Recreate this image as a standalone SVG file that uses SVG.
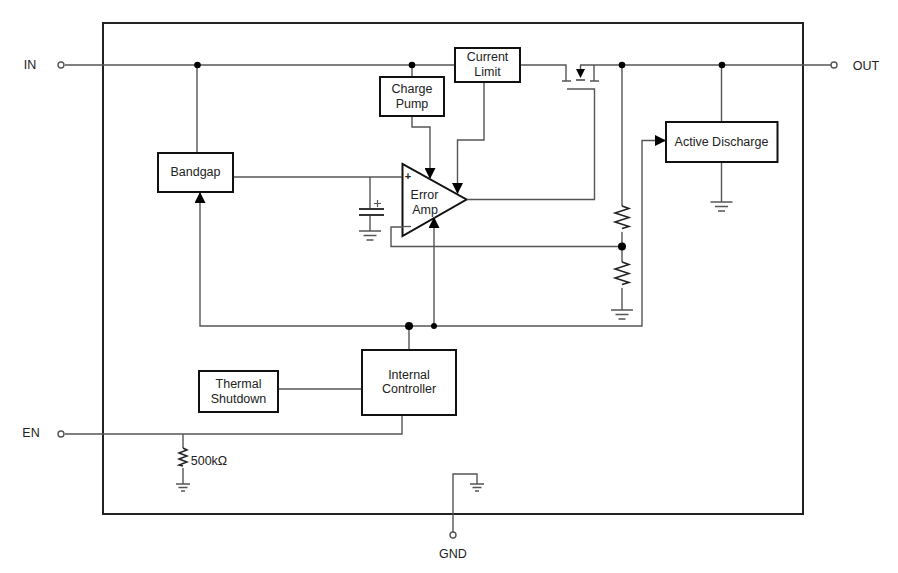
<svg xmlns="http://www.w3.org/2000/svg" width="898" height="573" viewBox="0 0 898 573">
<defs>
<marker id="arr" viewBox="0 0 11 11" refX="11" refY="5.500" markerWidth="11" markerHeight="11" markerUnits="userSpaceOnUse" orient="auto"><path d="M0 0L11 5.500L0 11Z" fill="#000"/></marker>
<g id="gnd"><path d="M-11 0H11M-6.500 4.500H6.500M-3.500 9H3.500" fill="none" stroke="#555" stroke-width="1.300"/></g>
<g id="gnds"><path d="M-7 0H7M-4.500 3.500H4.500M-2 7H2" fill="none" stroke="#555" stroke-width="1.300"/></g>
</defs>
<style>
text{font-family:"Liberation Sans",Arial,sans-serif;font-size:12.500px;fill:#222;text-anchor:middle}
.w{fill:none;stroke:#555;stroke-width:1.400}
.z{fill:none;stroke:#222;stroke-width:1.500}
.b{fill:#fff;stroke:#111;stroke-width:2}
.d{fill:#000}
.t{fill:#fff;stroke:#555;stroke-width:1.400}
</style>
<rect x="103" y="23" width="700" height="491" fill="#fff" stroke="#222" stroke-width="2"/>
<g id="error-amp"><path d="M402.500 164V236L466.500 199.500Z" fill="#fff" stroke="#111" stroke-width="2"/><text x="424.500" y="199">Error</text><text x="425" y="214">Amp</text><text x="408" y="179.500" style="font-size:11px;font-weight:bold">+</text><path d="M403 226.500H411" stroke="#555" stroke-width="1.300"/></g>
<g id="connectors">
<path class="w" d="M65 65H455M521 65H566V81M562 81H571M580 65H834M594 65V81M590 81H599M567 89H594.500V199.500H467"/>
<path class="w" d="M197 65V152M412 65V76"/>
<path class="w" d="M234 177H402M370 177V209M370 215V231"/>
<path class="w" marker-end="url(#arr)" d="M412 117V127H430V179"/>
<path class="w" marker-end="url(#arr)" d="M484 82V140H457.500V194"/>
<path class="w" d="M622 65V206M622 232V262M622 288V310"/>
<path class="w" d="M622 246.500H391V227H403"/>
<path class="w" d="M721.500 65V122M721.500 163V202"/>
<path class="w" marker-end="url(#arr)" d="M409 326H200V192"/>
<path class="w" marker-end="url(#arr)" d="M434 326V217"/>
<path class="w" marker-end="url(#arr)" d="M409 326H642V140.500H666"/>
<path class="w" d="M409 326V349M279 389H361"/>
<path class="w" d="M65 434H402V416"/>
<path class="w" d="M183 434V448M183 468V484"/>
<path class="w" d="M453 532V474H477V484"/>
<path class="z" d="M183 448l4 2 -8 3 8 3 -8 3 8 3 -8 3 4 1"/>
<path class="z" d="M622 206l7 2.500 -14 4.500 14 4.500 -14 4.500 14 4.500 -7 2"/>
<path class="z" d="M622 262l7 2.500 -14 4.500 14 4.500 -14 4.500 14 4.500 -7 2"/>
<use href="#gnd" x="622" y="310"/>
<use href="#gnd" x="721.500" y="202"/>
<use href="#gnds" x="183" y="484"/>
<use href="#gnds" x="477" y="484"/>
<use href="#gnd" x="370" y="231"/>
<path d="M359 209H384M359 215H384" fill="none" stroke="#333" stroke-width="1.800"/>
<path d="M374 203.500H381M377.500 200V207" fill="none" stroke="#555" stroke-width="1.200"/>
<path d="M580.500 65V69" class="w"/>
<path class="d" d="M576 69H585L580.500 78Z"/>
<path d="M576 80H585" stroke="#333" stroke-width="1.400"/>
<circle class="d" cx="197.500" cy="65" r="3.300"/>
<circle class="d" cx="412" cy="65" r="3.300"/>
<circle class="d" cx="622" cy="65" r="3.300"/>
<circle class="d" cx="722" cy="65" r="3.300"/>
<circle class="d" cx="622" cy="246.500" r="4"/>
<circle class="d" cx="409" cy="326" r="4"/>
<circle class="d" cx="434" cy="326" r="3"/>
<circle class="t" cx="61" cy="65" r="3"/>
<circle class="t" cx="834" cy="65" r="3"/>
<circle class="t" cx="61" cy="434" r="3"/>
<circle class="t" cx="453" cy="535" r="3"/>
</g>
<g id="current-limit"><rect class="b" x="455" y="48" width="65" height="34"/><text x="487.500" y="61">Current</text><text x="487.500" y="76">Limit</text></g>
<g id="charge-pump"><rect class="b" x="380" y="77" width="64" height="39"/><text x="412" y="93">Charge</text><text x="412" y="108">Pump</text></g>
<g id="bandgap"><rect class="b" x="158" y="153" width="75" height="39"/><text x="195.500" y="176">Bandgap</text></g>
<g id="active-discharge"><rect class="b" x="666" y="122" width="111.500" height="40"/><text x="721.500" y="146">Active Discharge</text></g>
<g id="internal-controller"><rect class="b" x="362" y="350" width="94" height="65"/><text x="409" y="379">Internal</text><text x="409" y="393">Controller</text></g>
<g id="thermal-shutdown"><rect class="b" x="199" y="371" width="79" height="41"/><text x="238.500" y="388">Thermal</text><text x="238.500" y="403">Shutdown</text></g>
<text x="30" y="69">IN</text>
<text x="866" y="70">OUT</text>
<text x="31" y="437">EN</text>
<text x="453" y="558">GND</text>
<text x="209" y="465">500kΩ</text>
</svg>
